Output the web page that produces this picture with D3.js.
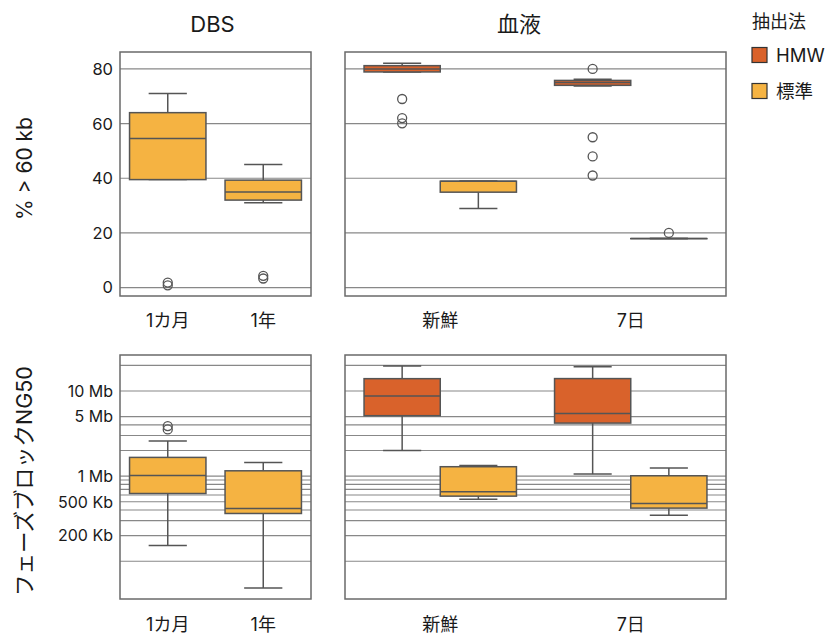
<!DOCTYPE html>
<html><head><meta charset="utf-8">
<script src="https://cdn.jsdelivr.net/npm/d3@7"></script>
<style>
body{margin:0;background:#fff;}
text{font-family:Inter,"Noto Sans CJK JP",sans-serif;fill:#1a1a1a;}
</style></head>
<body><svg id="c" width="831" height="637"></svg>
<script>
// ---- data ----
const dbsCategories = ["1カ月", "1年"];
const bloodCategories = ["新鮮", "7日"];
const methods = ["HMW", "標準"];
const methodColors = ["#d9622b", "#f5b342"];

// stats: [whiskerLo, q1, median, q3, whiskerHi]
const dbsPctStats = [[39.5, 39.5, 54.5, 64, 71], [31, 32, 35, 39.3, 45]];
const dbsPctOutliers = [[0.8, 1.8], [3.3, 4.3]];
const bloodPctHMWStats = [[78.9, 78.9, 80, 81.2, 82.1], [73.8, 74, 75, 75.8, 76.2]];
const bloodPctHMWOutliers = [[60.1, 62, 69], [41, 48, 55, 80]];
const bloodPctStdStats = [[28.9, 34.9, 38.9, 38.9, 39], [17.9, 17.9, 17.9, 17.9, 17.9]];
const bloodPctStdOutliers = [[], [20]];

const dbsNG50Stats = [[153e3, 625e3, 1.02e6, 1.66e6, 2.58e6], [48.5e3, 364e3, 417e3, 1.155e6, 1.45e6]];
const dbsNG50Outliers = [[3.54e6, 3.87e6], []];
const bloodNG50HMWStats = [[2.0e6, 5.13e6, 8.73e6, 13.97e6, 19.7e6], [1.056e6, 4.2e6, 5.46e6, 14e6, 19.3e6]];
const bloodNG50StdStats = [[536e3, 582e3, 655e3, 1.29e6, 1.335e6], [348e3, 421e3, 476e3, 1.01e6, 1.25e6]];

const pctTicks = [0, 20, 40, 60, 80];
const ng50Grid = [100e3, 200e3, 300e3, 400e3, 500e3, 600e3, 700e3, 800e3, 900e3, 1e6, 2e6, 3e6, 4e6, 5e6, 10e6, 20e6];
const ng50Ticks = [200e3, 500e3, 1e6, 5e6, 10e6];
const ng50TickLabels = ["200 Kb", "500 Kb", "1 Mb", "5 Mb", "10 Mb"];

// ---- drawing ----
const svg = d3.select("#c");
const left = {x0: 120, x1: 311}, right = {x0: 345, x1: 726};
const topRow = {y0: 52, y1: 296}, botRow = {y0: 355, y1: 599};

const yPct = d3.scaleLinear().domain([-3.1, 86.2]).range([topRow.y1, topRow.y0]);
const yNG = d3.scaleLog().domain([36e3, 26.5e6]).range([botRow.y1, botRow.y0]);

const gridColor = "#888", frameColor = "#6a6a6a", lineColor = "#555";

function panel(px, row, y, grid) {
  const g = svg.append("g");
  g.selectAll("line.grid").data(grid).join("line")
    .attr("x1", px.x0).attr("x2", px.x1)
    .attr("y1", d => y(d)).attr("y2", d => y(d))
    .attr("stroke", gridColor).attr("stroke-width", 1.2);
  return g;
}
function frame(px, row) {
  svg.append("rect").attr("x", px.x0).attr("y", row.y0)
    .attr("width", px.x1 - px.x0).attr("height", row.y1 - row.y0)
    .attr("fill", "none").attr("stroke", frameColor).attr("stroke-width", 1.5);
}
function box(g, cx, w, s, out, y, color) {
  const [lo, q1, med, q3, hi] = s;
  g.append("line").attr("x1", cx).attr("x2", cx).attr("y1", y(q3)).attr("y2", y(hi))
    .attr("stroke", lineColor).attr("stroke-width", 1.5);
  g.append("line").attr("x1", cx).attr("x2", cx).attr("y1", y(q1)).attr("y2", y(lo))
    .attr("stroke", lineColor).attr("stroke-width", 1.5);
  [lo, hi].forEach(v => g.append("line").attr("x1", cx - w / 4).attr("x2", cx + w / 4)
    .attr("y1", y(v)).attr("y2", y(v)).attr("stroke", lineColor).attr("stroke-width", 1.5));
  g.append("rect").attr("x", cx - w / 2).attr("width", w)
    .attr("y", y(q3)).attr("height", Math.max(0.01, y(q1) - y(q3)))
    .attr("fill", color).attr("stroke", lineColor).attr("stroke-width", 1.5);
  g.append("line").attr("x1", cx - w / 2).attr("x2", cx + w / 2).attr("y1", y(med)).attr("y2", y(med))
    .attr("stroke", lineColor).attr("stroke-width", 1.5);
  g.selectAll(null).data(out).join("circle").attr("cx", cx).attr("cy", d => y(d)).attr("r", 4.5)
    .attr("fill", "none").attr("stroke", lineColor).attr("stroke-width", 1.3);
}

const xL = d3.scaleBand().domain(dbsCategories).range([left.x0, left.x1]);
const xR = d3.scaleBand().domain(bloodCategories).range([right.x0, right.x1]);
const xHue = d3.scaleBand().domain(methods).range([-0.4, 0.4]);

// top-left
let g = panel(left, topRow, yPct, pctTicks);
dbsCategories.forEach((c, i) => box(g, xL(c) + xL.bandwidth() / 2, xL.bandwidth() * 0.8, dbsPctStats[i], dbsPctOutliers[i], yPct, methodColors[1]));
frame(left, topRow);
// top-right
g = panel(right, topRow, yPct, pctTicks);
bloodCategories.forEach((c, i) => {
  const cx = xR(c) + xR.bandwidth() / 2, bw = xR.bandwidth();
  box(g, cx + (xHue("HMW") + xHue.bandwidth() / 2) * bw, xHue.bandwidth() * bw, bloodPctHMWStats[i], bloodPctHMWOutliers[i], yPct, methodColors[0]);
  box(g, cx + (xHue("標準") + xHue.bandwidth() / 2) * bw, xHue.bandwidth() * bw, bloodPctStdStats[i], bloodPctStdOutliers[i], yPct, methodColors[1]);
});
frame(right, topRow);
// bottom-left
g = panel(left, botRow, yNG, ng50Grid);
dbsCategories.forEach((c, i) => box(g, xL(c) + xL.bandwidth() / 2, xL.bandwidth() * 0.8, dbsNG50Stats[i], dbsNG50Outliers[i], yNG, methodColors[1]));
frame(left, botRow);
// bottom-right
g = panel(right, botRow, yNG, ng50Grid);
bloodCategories.forEach((c, i) => {
  const cx = xR(c) + xR.bandwidth() / 2, bw = xR.bandwidth();
  box(g, cx + (xHue("HMW") + xHue.bandwidth() / 2) * bw, xHue.bandwidth() * bw, bloodNG50HMWStats[i], [], yNG, methodColors[0]);
  box(g, cx + (xHue("標準") + xHue.bandwidth() / 2) * bw, xHue.bandwidth() * bw, bloodNG50StdStats[i], [], yNG, methodColors[1]);
});
frame(right, botRow);

// y tick labels
svg.selectAll("text.yp").data(pctTicks).join("text")
  .attr("x", 113).attr("y", d => yPct(d)).attr("dy", "0.36em").attr("text-anchor", "end")
  .attr("font-size", 16.5).text(d => d);
svg.selectAll("text.yn").data(ng50Ticks).join("text")
  .attr("x", 113).attr("y", d => yNG(d)).attr("dy", "0.36em").attr("text-anchor", "end")
  .attr("font-size", 16).text((d, i) => ng50TickLabels[i]);

// x tick labels
[[xL, dbsCategories], [xR, bloodCategories]].forEach(([sc, cats]) => {
  [327, 631].forEach(by => {
    svg.selectAll(null).data(cats).join("text")
      .attr("x", d => sc(d) + sc.bandwidth() / 2).attr("y", by)
      .attr("text-anchor", "middle").attr("font-size", 18).text(d => d);
  });
});

// titles
svg.append("text").attr("x", 212.5).attr("y", 32).attr("text-anchor", "middle").attr("font-size", 22).text("DBS");
svg.append("text").attr("x", 519).attr("y", 32).attr("text-anchor", "middle").attr("font-size", 22).text("血液");

// axis titles
svg.append("text").attr("transform", "translate(24,168.5) rotate(-90)").attr("text-anchor", "middle")
  .attr("dominant-baseline", "central").attr("font-size", 21).text("% > 60 kb");
svg.append("text").attr("transform", "translate(24,481) rotate(-90)").attr("text-anchor", "middle")
  .attr("dominant-baseline", "central").attr("font-size", 21.5).text("フェーズブロックNG50");

// legend
svg.append("text").attr("x", 752).attr("y", 28).attr("font-size", 18).text("抽出法");
methods.forEach((m, i) => {
  svg.append("rect").attr("x", 752).attr("y", 47.5 + i * 36).attr("width", 15).attr("height", 15)
    .attr("fill", methodColors[i]).attr("stroke", "#333").attr("stroke-width", 1.2);
  svg.append("text").attr("x", 776).attr("y", 55 + i * 36).attr("dy", "0.36em").attr("font-size", 18.5).text(m);
});
</script></body></html>
